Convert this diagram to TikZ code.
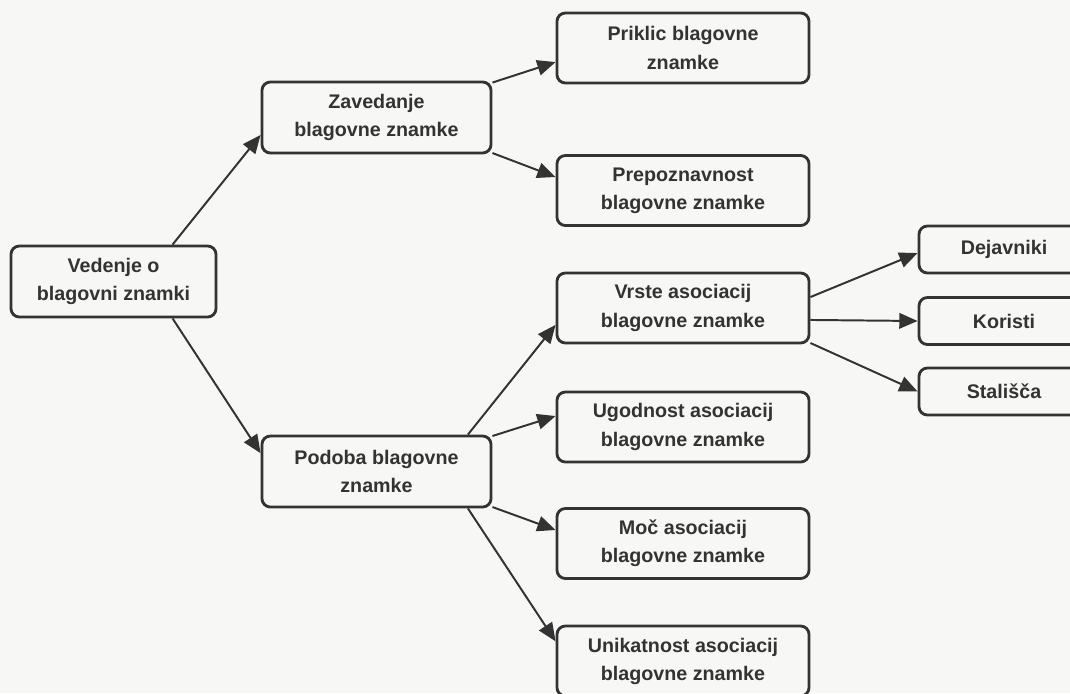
\documentclass[tikz,border=0pt]{standalone}
\usepackage{fontspec}
\setmainfont{Liberation Sans}
\usetikzlibrary{arrows.meta}
\definecolor{ink}{HTML}{333333}
\definecolor{paper}{HTML}{F7F7F5}
\tikzset{
  box/.style={draw=ink, line width=2pt, rounded corners=6pt, align=center, text=ink,
    font=\bfseries\fontsize{14}{20}\selectfont, inner sep=0pt},
  rootbox/.style={box, minimum width=5.125cm, minimum height=1.775cm},
  midbox/.style={box, minimum width=5.725cm, minimum height=1.775cm},
  leafbox/.style={box, minimum width=6.3cm, minimum height=1.75cm},
  smallbox/.style={box, minimum width=4.25cm, minimum height=1.175cm},
  arr/.style={draw=ink, line width=1.4pt, -{Triangle[length=13pt,width=11pt]}}
}
\begin{document}
\begin{tikzpicture}[x=0.025cm, y=-0.025cm]
  \fill[paper] (0,0) rectangle (1070,693);
  \useasboundingbox (0,0) rectangle (1070,693);
  % levels
  \node[rootbox] (vedenje) at (113.5,281.5) {Vedenje o\\blagovni znamki};
  \node[midbox] (zavedanje) at (376.5,117.5) {Zavedanje\\blagovne znamke};
  \node[midbox] (podoba) at (376.5,471.5) {Podoba blagovne\\znamke};
  \node[leafbox] (priklic) at (683,48) {Priklic blagovne\\znamke};
  \node[leafbox] (prepoz) at (683,190.5) {Prepoznavnost\\blagovne znamke};
  \node[leafbox] (vrste) at (683,308) {Vrste asociacij\\blagovne znamke};
  \node[leafbox] (ugodnost) at (683,427) {Ugodnost asociacij\\blagovne znamke};
  \node[leafbox] (moc) at (683,543.5) {Moč asociacij\\blagovne znamke};
  \node[leafbox] (unikat) at (683,661) {Unikatnost asociacij\\blagovne znamke};
  \node[smallbox] (dejavniki) at (1004,249.5) {Dejavniki};
  \node[smallbox] (koristi) at (1004,321) {Koristi};
  \node[smallbox] (stalisca) at (1004,391.5) {Stališča};
  % arrows
  \draw[arr] ([xshift=42pt]vedenje.north) -- ([yshift=-12.4pt]zavedanje.west);
  \draw[arr] ([xshift=42pt]vedenje.south) -- ([yshift=13pt]podoba.west);
  \draw[arr] ([yshift=-1.4pt]zavedanje.north east) -- ([yshift=-10pt]priklic.west);
  \draw[arr] ([yshift=1pt]zavedanje.south east) -- ([yshift=9.6pt]prepoz.west);
  \draw[arr] ([xshift=65pt]podoba.north) -- ([yshift=-12pt]vrste.west);
  \draw[arr] ([yshift=-1pt]podoba.north east) -- ([yshift=7.8pt]ugodnost.west);
  \draw[arr] ([yshift=1pt]podoba.south east) -- ([yshift=9.6pt]moc.west);
  \draw[arr] ([xshift=65pt]podoba.south) -- ([yshift=14pt]unikat.west);
  \draw[arr] ([yshift=7.8pt]vrste.east) -- ([yshift=-2.5pt]dejavniki.west);
  \draw[arr] ([yshift=-8.5pt]vrste.east) -- (koristi.west);
  \draw[arr] ([yshift=1pt]vrste.south east) -- (stalisca.west);
\end{tikzpicture}
\end{document}
